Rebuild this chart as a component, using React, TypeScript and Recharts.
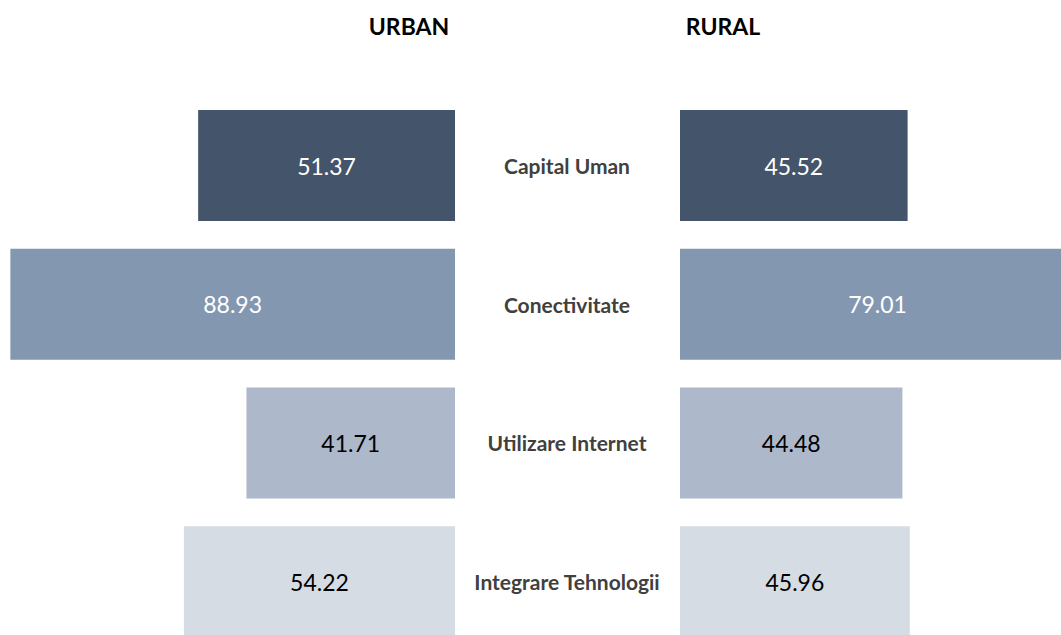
import React from 'react';
import { BarChart, Bar, XAxis, YAxis, Cell, LabelList } from 'recharts';

const categories = ['Capital Uman', 'Conectivitate', 'Utilizare Internet', 'Integrare Tehnologii'];
const urbanValues = [51.37, 88.93, 41.71, 54.22];
const ruralValues = [45.52, 79.01, 44.48, 45.96];
const barColors = ['#44546A', '#8497B0', '#ADB9CA', '#D6DCE4'];
const labelColors = ['#FFFFFF', '#FFFFFF', '#000000', '#000000'];

const data = categories.map((name, i) => ({
    name,
    urban: urbanValues[i],
    rural: ruralValues[i],
}));

const FONT = 'Lato, "Open Sans", sans-serif';

const valueLabel = (props: any) => {
    const { x, y, width, height, value, index } = props;
    const cx = Number(x) + Number(width) / 2;
    const cy = Number(y) + Number(height) / 2;
    return (
        <text
            x={cx}
            y={cy}
            textAnchor="middle"
            dominantBaseline="central"
            fontFamily={FONT}
            fontSize={23}
            fill={labelColors[index] ?? '#000'}
        >
            {Number(value).toFixed(2)}
        </text>
    );
};

const CategoryTick = (props: any) => {
    const { y, payload } = props;
    return (
        <text
            x={112}
            y={y}
            textAnchor="middle"
            dominantBaseline="central"
            fontFamily={FONT}
            fontWeight="bold"
            fontSize={21}
            fill="#404040"
        >
            {payload.value}
        </text>
    );
};

const App: React.FC = () => {
    return (
        <div
            style={{
                position: 'fixed',
                left: 0,
                top: 0,
                width: 1061,
                height: 635,
                overflow: 'hidden',
                background: '#fff',
            }}
        >
            <svg width={1061} height={60} style={{ position: 'absolute', left: 0, top: 0 }}>
                <text x={409} y={35} textAnchor="middle" fontFamily={FONT} fontWeight="bold" fontSize={23} fill="#000">
                    URBAN
                </text>
                <text x={723} y={35} textAnchor="middle" fontFamily={FONT} fontWeight="bold" fontSize={23} fill="#000">
                    RURAL
                </text>
            </svg>

            <div style={{ position: 'absolute', left: 0, top: 96 }}>
                <BarChart
                    width={455}
                    height={555}
                    data={data}
                    layout="vertical"
                    margin={{ top: 0, right: 0, left: 0, bottom: 0 }}
                    barCategoryGap={0}
                >
                    <XAxis type="number" domain={[0, 91]} reversed hide />
                    <YAxis type="category" dataKey="name" hide />
                    <Bar dataKey="urban" barSize={111} isAnimationActive={false}>
                        {data.map((_, i) => (
                            <Cell key={i} fill={barColors[i]} />
                        ))}
                        <LabelList dataKey="urban" content={valueLabel} />
                    </Bar>
                </BarChart>
            </div>

            <div style={{ position: 'absolute', left: 455, top: 96 }}>
                <BarChart
                    width={630}
                    height={555}
                    data={data}
                    layout="vertical"
                    margin={{ top: 0, right: 0, left: 0, bottom: 0 }}
                    barCategoryGap={0}
                >
                    <XAxis type="number" domain={[0, 81]} hide />
                    <YAxis
                        type="category"
                        dataKey="name"
                        width={225}
                        axisLine={false}
                        tickLine={false}
                        tick={<CategoryTick />}
                    />
                    <Bar dataKey="rural" barSize={111} isAnimationActive={false}>
                        {data.map((_, i) => (
                            <Cell key={i} fill={barColors[i]} />
                        ))}
                        <LabelList dataKey="rural" content={valueLabel} />
                    </Bar>
                </BarChart>
            </div>
        </div>
    );
};

export default App;
